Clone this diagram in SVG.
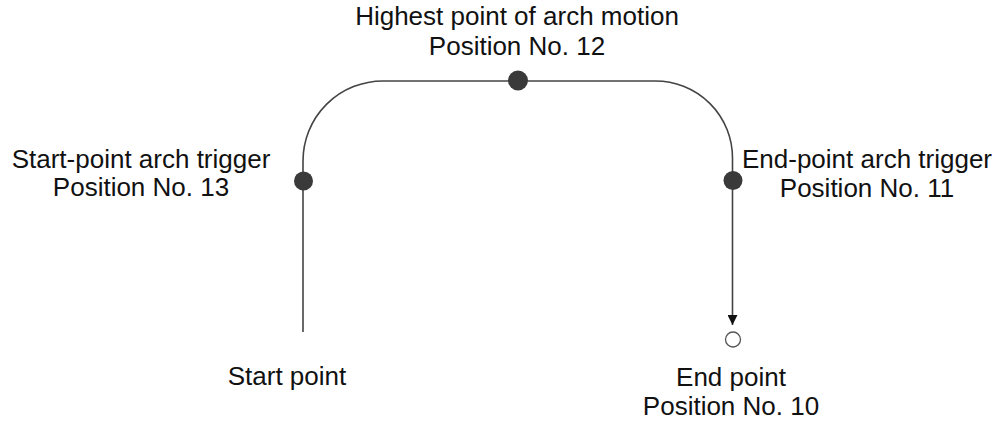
<svg xmlns="http://www.w3.org/2000/svg" width="1000" height="426" viewBox="0 0 1000 426">
<style>
text{font-family:"Liberation Sans",Arial,sans-serif;font-size:26px;fill:#111;text-anchor:middle}
.path{fill:none;stroke:#444;stroke-width:1.6}
.dot{fill:#3a3a3a}
</style>
<defs>
<marker id="arr" viewBox="0 0 10 10" refX="10" refY="5" markerWidth="10" markerHeight="10" markerUnits="userSpaceOnUse" orient="auto">
<path d="M0,0 L10,5 L0,10 Z" fill="#111"/>
</marker>
</defs>
<rect width="1000" height="426" fill="#fff"/>
<g id="connectors">
<path class="path" d="M303,332 L303,161 A80,80 0 0 1 383,81 L655,81 A77,77 0 0 1 732.5,158 L732.5,325" marker-end="url(#arr)"/>
</g>
<g id="start">
<text x="287" y="385">Start point</text>
</g>
<g id="trigger13">
<circle class="dot" cx="303.5" cy="181" r="9.5"/>
<text x="141" y="168">Start-point arch trigger</text>
<text x="141" y="196">Position No. 13</text>
</g>
<g id="highest12">
<circle class="dot" cx="518" cy="80.5" r="10"/>
<text x="517" y="25">Highest point of arch motion</text>
<text x="517" y="55">Position No. 12</text>
</g>
<g id="trigger11">
<circle class="dot" cx="733" cy="180.5" r="9.5"/>
<text x="867" y="168">End-point arch trigger</text>
<text x="867" y="197">Position No. 11</text>
</g>
<g id="end10">
<circle cx="733" cy="339.5" r="7.5" fill="#fff" stroke="#555" stroke-width="1.3"/>
<text x="731" y="386">End point</text>
<text x="731" y="415">Position No. 10</text>
</g>
</svg>
